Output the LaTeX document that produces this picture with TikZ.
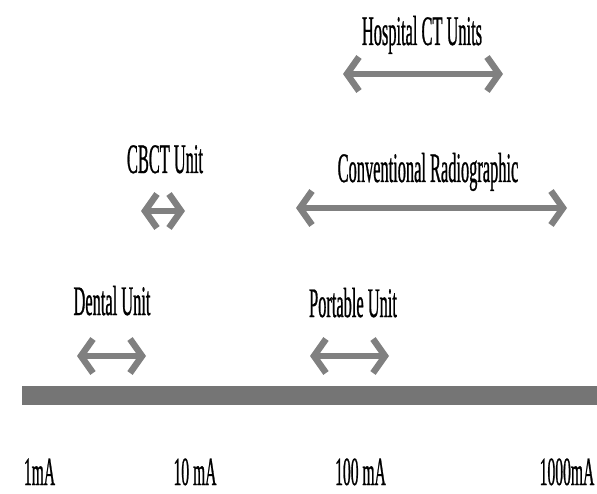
\documentclass[tikz,border=0pt]{standalone}
\usepackage{fontspec}
\newfontfamily\lblfont[FakeStretch=0.39,FakeBold=0.6]{Liberation Serif}
\usetikzlibrary{arrows.meta}
\definecolor{bargray}{RGB}{117,117,117}
\definecolor{arrgray}{RGB}{128,128,128}
\tikzset{
  lbl/.style={anchor=base, inner sep=0pt, text depth=0pt, font=\lblfont\fontsize{42bp}{42bp}\selectfont, text=black},
  tick/.style={lbl, font=\lblfont\fontsize{40bp}{40bp}\selectfont},
  rng/.style={draw=arrgray, line width=6.5bp, {Straight Barb[length=12bp,width=34bp]}-{Straight Barb[length=12bp,width=34bp]}},
}
\begin{document}
\begin{tikzpicture}[x=1bp,y=-1bp]
\useasboundingbox (0,0) rectangle (597,494);
% axis bar
\fill[bargray] (22,386) rectangle (597,405);
% tick labels
\node[tick] (t1) at (39.5,485) {1mA};
\node[tick] (t10) at (195,485) {10 mA};
\node[tick] (t100) at (360.5,485) {100 mA};
\node[tick] (t1000) at (567,485) {1000mA};
% range labels
\node[lbl] (hosp) at (422,45) {Hospital CT Units};
\node[lbl] (conv) at (428,182) {Conventional Radiographic};
\node[lbl] (cbct) at (165,173) {CBCT Unit};
\node[lbl] (dent) at (112,315) {Dental Unit};
\node[lbl] (port) at (353,317) {Portable Unit};
% arrow end points
\coordinate (hospL) at (343,74);  \coordinate (hospR) at (503,74);
\coordinate (convL) at (296,208); \coordinate (convR) at (567,208);
\coordinate (cbctL) at (141,211); \coordinate (cbctR) at (185,211);
\coordinate (dentL) at (77,356);  \coordinate (dentR) at (146,356);
\coordinate (portL) at (310,356); \coordinate (portR) at (389,356);
\draw[rng] (hospL) -- (hospR);
\draw[rng] (convL) -- (convR);
\draw[rng] (cbctL) -- (cbctR);
\draw[rng] (dentL) -- (dentR);
\draw[rng] (portL) -- (portR);
\end{tikzpicture}
\end{document}
